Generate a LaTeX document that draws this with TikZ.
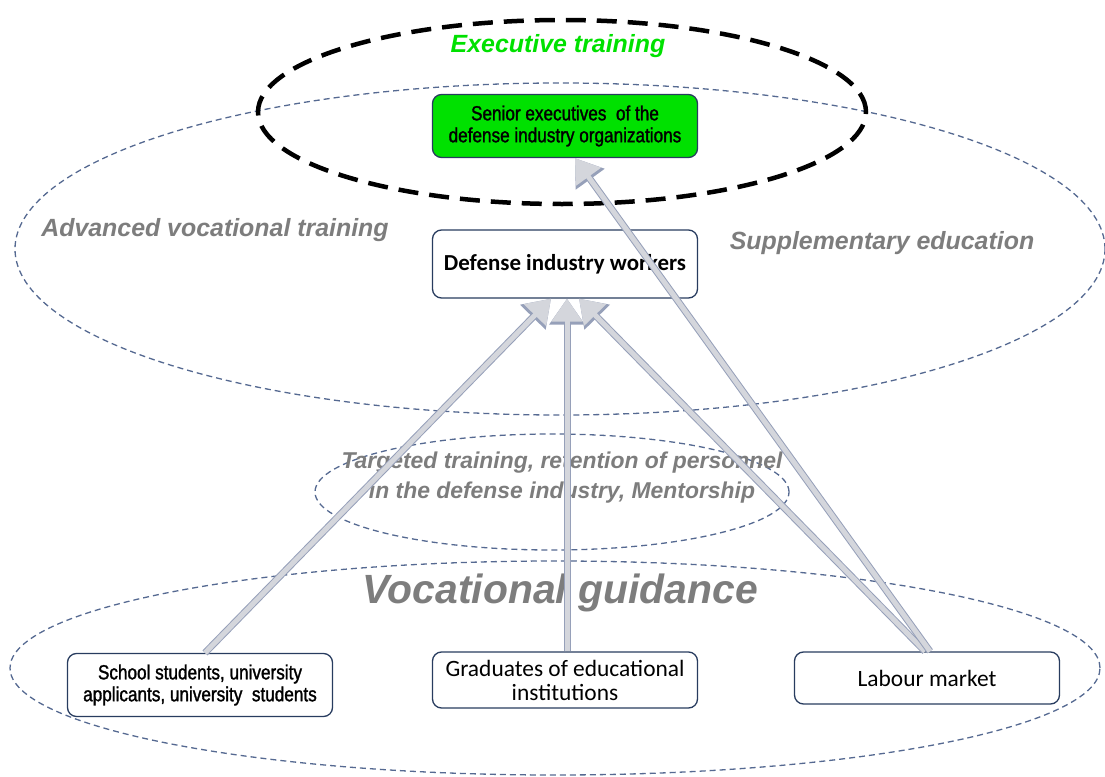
\documentclass[tikz,border=0pt]{standalone}
\usepackage{fontspec}
\setmainfont{Liberation Sans}
\newfontfamily\calib{Carlito}
\newfontfamily\narrow[FakeStretch=0.84,FakeBold=1.4]{Liberation Sans}
\usepackage{xcolor}
\usepackage{tikz}
\usetikzlibrary{arrows.meta}
\definecolor{ringblue}{RGB}{85,105,145}
\definecolor{boxblue}{RGB}{40,60,95}
\definecolor{labgray}{RGB}{125,125,125}
\definecolor{exgreen}{RGB}{0,225,0}
\definecolor{flowfill}{RGB}{212,214,220}
\definecolor{flowedge}{RGB}{150,160,185}

\begin{document}
\begin{tikzpicture}[x=1bp,y=-1bp,
  ring/.style={draw=ringblue,line width=1.3bp,dash pattern=on 6bp off 4bp},
  box/.style={draw=boxblue,line width=1.3bp,rounded corners=9bp,fill=white,align=center,minimum width=265bp},
  lab/.style={text=labgray,font=\fontsize{25}{29}\selectfont\bfseries\itshape,align=center},
  flow/.style={draw=flowfill,line width=5bp,
    preaction={draw=flowedge,line width=7bp,-{Triangle[width=34bp,length=26bp]}},
    -{Triangle[width=30bp,length=23bp]}}]
\useasboundingbox (0,0) rectangle (1105,777);
\draw[ring] (560,249) ellipse [x radius=545bp, y radius=166bp];
\draw[ring] (552,492) ellipse [x radius=237bp, y radius=58bp];
\draw[ring] (555,668) ellipse [x radius=545bp, y radius=107bp];
\draw[black,line width=4.5bp,dash pattern=on 20bp off 11bp] (562,112) ellipse [x radius=304bp, y radius=92bp];

\node[lab] (adv) at (215,230) {Advanced vocational training};
\node[lab] (supp) at (882,243) {Supplementary education};
\node[lab,font=\fontsize{23}{30}\selectfont\bfseries\itshape] (target) at (562,478) {Targeted training, retention of personnel\\in the defense industry, Mentorship};
\node[lab,font=\fontsize{41}{46}\selectfont\bfseries\itshape] (guide) at (560,593) {Vocational guidance};
\node[text=exgreen,font=\fontsize{25}{29}\selectfont\bfseries\itshape] (exec) at (558,46) {Executive training};

\node[box,fill=exgreen,minimum height=63bp,font=\narrow\fontsize{20.5}{22}\selectfont] (senior) at (565,126) {Senior executives\ \ of the\\defense industry organizations};
\node[box,minimum height=68bp,font=\calib\bfseries\fontsize{23}{27}\selectfont] (workers) at (565,264) {Defense industry workers};
\node[box,minimum height=63bp,font=\narrow\fontsize{20.5}{22}\selectfont] (school) at (200,685) {School students, university\\applicants, university\ \ students};
\node[box,minimum height=56bp,font=\calib\fontsize{23.5}{24}\selectfont] (grad) at (565,680) {Graduates of educational\\institutions};
\node[box,minimum height=52bp,font=\calib\fontsize{23.5}{27}\selectfont] (labour) at (927,678) {Labour market};

\draw[flow] ([xshift=5bp]school.north) -- ([xshift=-14bp]workers.south);
\draw[flow] ([xshift=2bp]grad.north) -- ([xshift=2bp]workers.south);
\draw[flow] ([xshift=-2bp]labour.north) -- ([xshift=14bp]workers.south);
\draw[flow] ([xshift=3bp]labour.north) -- ([xshift=10bp]senior.south);
\end{tikzpicture}
\end{document}
